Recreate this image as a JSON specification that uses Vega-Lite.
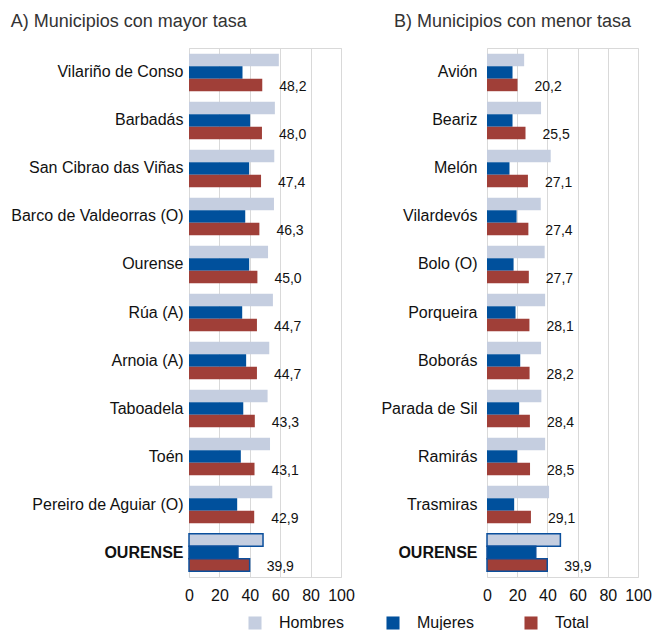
{
  "$schema": "https://vega.github.io/schema/vega-lite/v6.json",
  "padding": {"left": 10, "top": 12, "right": 0, "bottom": 0},
  "datasets": {
    "mayor": [
      {"municipio": "Vilariño de Conso", "serie": "Hombres", "valor": 59.1},
      {"municipio": "Vilariño de Conso", "serie": "Mujeres", "valor": 35.2},
      {"municipio": "Vilariño de Conso", "serie": "Total", "valor": 48.2},
      {"municipio": "Barbadás", "serie": "Hombres", "valor": 56.5},
      {"municipio": "Barbadás", "serie": "Mujeres", "valor": 40.2},
      {"municipio": "Barbadás", "serie": "Total", "valor": 48.0},
      {"municipio": "San Cibrao das Viñas", "serie": "Hombres", "valor": 56.1},
      {"municipio": "San Cibrao das Viñas", "serie": "Mujeres", "valor": 39.6},
      {"municipio": "San Cibrao das Viñas", "serie": "Total", "valor": 47.4},
      {"municipio": "Barco de Valdeorras (O)", "serie": "Hombres", "valor": 55.9},
      {"municipio": "Barco de Valdeorras (O)", "serie": "Mujeres", "valor": 37.0},
      {"municipio": "Barco de Valdeorras (O)", "serie": "Total", "valor": 46.3},
      {"municipio": "Ourense", "serie": "Hombres", "valor": 52.0},
      {"municipio": "Ourense", "serie": "Mujeres", "valor": 39.6},
      {"municipio": "Ourense", "serie": "Total", "valor": 45.0},
      {"municipio": "Rúa (A)", "serie": "Hombres", "valor": 55.2},
      {"municipio": "Rúa (A)", "serie": "Mujeres", "valor": 35.0},
      {"municipio": "Rúa (A)", "serie": "Total", "valor": 44.7},
      {"municipio": "Arnoia (A)", "serie": "Hombres", "valor": 52.8},
      {"municipio": "Arnoia (A)", "serie": "Mujeres", "valor": 37.6},
      {"municipio": "Arnoia (A)", "serie": "Total", "valor": 44.7},
      {"municipio": "Taboadela", "serie": "Hombres", "valor": 51.7},
      {"municipio": "Taboadela", "serie": "Mujeres", "valor": 35.7},
      {"municipio": "Taboadela", "serie": "Total", "valor": 43.3},
      {"municipio": "Toén", "serie": "Hombres", "valor": 53.3},
      {"municipio": "Toén", "serie": "Mujeres", "valor": 34.1},
      {"municipio": "Toén", "serie": "Total", "valor": 43.1},
      {"municipio": "Pereiro de Aguiar (O)", "serie": "Hombres", "valor": 54.8},
      {"municipio": "Pereiro de Aguiar (O)", "serie": "Mujeres", "valor": 31.7},
      {"municipio": "Pereiro de Aguiar (O)", "serie": "Total", "valor": 42.9},
      {"municipio": "OURENSE", "serie": "Hombres", "valor": 48.7},
      {"municipio": "OURENSE", "serie": "Mujeres", "valor": 32.2},
      {"municipio": "OURENSE", "serie": "Total", "valor": 39.9}
    ],
    "menor": [
      {"municipio": "Avión", "serie": "Hombres", "valor": 24.6},
      {"municipio": "Avión", "serie": "Mujeres", "valor": 16.9},
      {"municipio": "Avión", "serie": "Total", "valor": 20.2},
      {"municipio": "Beariz", "serie": "Hombres", "valor": 35.8},
      {"municipio": "Beariz", "serie": "Mujeres", "valor": 16.9},
      {"municipio": "Beariz", "serie": "Total", "valor": 25.5},
      {"municipio": "Melón", "serie": "Hombres", "valor": 42.2},
      {"municipio": "Melón", "serie": "Mujeres", "valor": 14.9},
      {"municipio": "Melón", "serie": "Total", "valor": 27.1},
      {"municipio": "Vilardevós", "serie": "Hombres", "valor": 35.6},
      {"municipio": "Vilardevós", "serie": "Mujeres", "valor": 19.6},
      {"municipio": "Vilardevós", "serie": "Total", "valor": 27.4},
      {"municipio": "Bolo (O)", "serie": "Hombres", "valor": 38.2},
      {"municipio": "Bolo (O)", "serie": "Mujeres", "valor": 17.6},
      {"municipio": "Bolo (O)", "serie": "Total", "valor": 27.7},
      {"municipio": "Porqueira", "serie": "Hombres", "valor": 38.5},
      {"municipio": "Porqueira", "serie": "Mujeres", "valor": 18.9},
      {"municipio": "Porqueira", "serie": "Total", "valor": 28.1},
      {"municipio": "Boborás", "serie": "Hombres", "valor": 35.8},
      {"municipio": "Boborás", "serie": "Mujeres", "valor": 22.0},
      {"municipio": "Boborás", "serie": "Total", "valor": 28.2},
      {"municipio": "Parada de Sil", "serie": "Hombres", "valor": 36.0},
      {"municipio": "Parada de Sil", "serie": "Mujeres", "valor": 21.3},
      {"municipio": "Parada de Sil", "serie": "Total", "valor": 28.4},
      {"municipio": "Ramirás", "serie": "Hombres", "valor": 38.5},
      {"municipio": "Ramirás", "serie": "Mujeres", "valor": 20.0},
      {"municipio": "Ramirás", "serie": "Total", "valor": 28.5},
      {"municipio": "Trasmiras", "serie": "Hombres", "valor": 41.1},
      {"municipio": "Trasmiras", "serie": "Mujeres", "valor": 18.0},
      {"municipio": "Trasmiras", "serie": "Total", "valor": 29.1},
      {"municipio": "OURENSE", "serie": "Hombres", "valor": 48.6},
      {"municipio": "OURENSE", "serie": "Mujeres", "valor": 32.3},
      {"municipio": "OURENSE", "serie": "Total", "valor": 39.9}
    ]
  },
  "config": {
    "locale": {"number": {"decimal": ",", "thousands": ".", "grouping": [3], "currency": ["", " €"]}},
    "font": "Liberation Sans",
    "view": {"stroke": "#d9d9d9"},
    "concat": {"spacing": 25}
  },
  "hconcat": [
    {
      "title": {"text": "A) Municipios con mayor tasa", "anchor": "start", "frame": "bounds", "fontSize": 18, "fontWeight": "normal", "color": "#333333", "offset": 17},
      "width": 152,
      "height": 529,
      "data": {"name": "mayor"},
      "encoding": {
        "y": {"field": "municipio", "type": "nominal", "sort": null,
          "scale": {"paddingInner": 0.22, "paddingOuter": 0.12},
          "axis": {"title": null, "labelFontSize": 16, "labelPadding": 6, "ticks": false, "domain": false, "labelColor": "#111111", "labelLimit": 300,
            "labelFontWeight": {"condition": {"test": "datum.value === 'OURENSE'", "value": "bold"}, "value": "normal"}}},
        "yOffset": {"field": "serie", "type": "nominal", "scale": {"domain": ["Hombres", "Mujeres", "Total"], "paddingInner": 0, "paddingOuter": 0}},
        "x": {"field": "valor", "type": "quantitative", "scale": {"domain": [0, 100]},
          "axis": {"title": null, "values": [0, 20, 40, 60, 80, 100], "labelFontSize": 16, "labelColor": "#111111", "grid": true, "gridColor": "#d9d9d9", "domain": false, "ticks": false, "labelFlush": false, "labelPadding": 10}}
      },
      "layer": [
        {
          "mark": {"type": "bar"},
          "encoding": {
            "color": {"field": "serie", "type": "nominal",
              "scale": {"domain": ["Hombres", "Mujeres", "Total"], "range": ["#c5cee0", "#00509c", "#a03f38"]},
              "legend": {"orient": "none", "legendX": 58, "legendY": 567, "direction": "horizontal", "title": null, "symbolType": "square", "symbolSize": 170, "labelFontSize": 16, "labelColor": "#111111", "columnPadding": 41, "gridAlign": "all", "labelOffset": 16, "symbolStrokeWidth": 0}},
            "stroke": {"condition": {"test": "datum.municipio === 'OURENSE'", "value": "#0b4f9c"}, "value": null},
            "strokeWidth": {"value": 1.5}
          }
        },
        {
          "transform": [{"filter": "datum.serie === 'Total'"}],
          "mark": {"type": "text", "align": "left", "dx": 17, "dy": 2, "fontSize": 14, "color": "#111111"},
          "encoding": {"text": {"field": "valor", "type": "quantitative", "format": ".1f"}}
        }
      ]
    },
    {
      "title": {"text": "B) Municipios con menor tasa", "anchor": "start", "frame": "bounds", "fontSize": 18, "fontWeight": "normal", "color": "#333333", "offset": 17, "dx": 13},
      "width": 151,
      "height": 529,
      "data": {"name": "menor"},
      "encoding": {
        "y": {"field": "municipio", "type": "nominal", "sort": null,
          "scale": {"paddingInner": 0.22, "paddingOuter": 0.12},
          "axis": {"title": null, "labelFontSize": 16, "labelPadding": 10, "ticks": false, "domain": false, "labelColor": "#111111", "labelLimit": 300,
            "labelFontWeight": {"condition": {"test": "datum.value === 'OURENSE'", "value": "bold"}, "value": "normal"}}},
        "yOffset": {"field": "serie", "type": "nominal", "scale": {"domain": ["Hombres", "Mujeres", "Total"], "paddingInner": 0, "paddingOuter": 0}},
        "x": {"field": "valor", "type": "quantitative", "scale": {"domain": [0, 100]},
          "axis": {"title": null, "values": [0, 20, 40, 60, 80, 100], "labelFontSize": 16, "labelColor": "#111111", "grid": true, "gridColor": "#d9d9d9", "domain": false, "ticks": false, "labelFlush": false, "labelPadding": 10}}
      },
      "layer": [
        {
          "mark": {"type": "bar"},
          "encoding": {
            "color": {"field": "serie", "type": "nominal",
              "scale": {"domain": ["Hombres", "Mujeres", "Total"], "range": ["#c5cee0", "#00509c", "#a03f38"]}},
            "stroke": {"condition": {"test": "datum.municipio === 'OURENSE'", "value": "#0b4f9c"}, "value": null},
            "strokeWidth": {"value": 1.5}
          }
        },
        {
          "transform": [{"filter": "datum.serie === 'Total'"}],
          "mark": {"type": "text", "align": "left", "dx": 17, "dy": 2, "fontSize": 14, "color": "#111111"},
          "encoding": {"text": {"field": "valor", "type": "quantitative", "format": ".1f"}}
        }
      ]
    }
  ]
}
